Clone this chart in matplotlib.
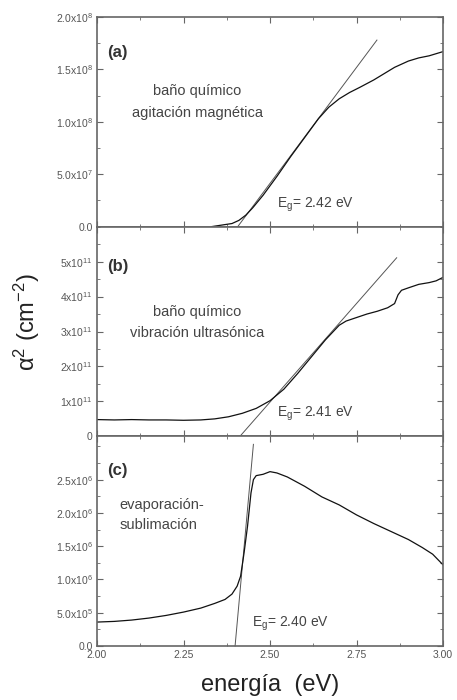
import matplotlib
matplotlib.use('Agg')
import matplotlib.pyplot as plt
import numpy as np
from matplotlib.ticker import MultipleLocator, FixedLocator, FixedFormatter

plt.rcParams['font.family'] = ['Liberation Sans', 'DejaVu Sans']
plt.rcParams['mathtext.default'] = 'regular'

# (a) bano quimico, agitacion magnetica  (alpha^2 in 1e8 cm^-2)
e_a = [2.33, 2.36, 2.39, 2.41, 2.43, 2.45, 2.48, 2.52, 2.56, 2.60, 2.64, 2.67,
       2.70, 2.73, 2.76, 2.80, 2.83, 2.86, 2.88, 2.90, 2.93, 2.96, 2.98, 3.00]
v_a = [0.00, 0.015, 0.03, 0.06, 0.11, 0.18, 0.30, 0.48, 0.67, 0.85, 1.03, 1.14,
       1.22, 1.28, 1.33, 1.40, 1.46, 1.52, 1.55, 1.58, 1.61, 1.63, 1.65, 1.67]
fit_a_e = [2.393, 2.809]
fit_a_v = [-0.06, 1.78]

# (b) bano quimico, vibracion ultrasonica  (1e11 cm^-2)
e_b = [2.00, 2.05, 2.10, 2.15, 2.20, 2.25, 2.30, 2.34, 2.38, 2.42, 2.46, 2.50,
       2.54, 2.58, 2.62, 2.66, 2.70, 2.72, 2.75, 2.78, 2.81, 2.84, 2.86, 2.87,
       2.88, 2.90, 2.93, 2.96, 2.98, 3.00]
v_b = [0.48, 0.47, 0.48, 0.47, 0.47, 0.46, 0.47, 0.50, 0.56, 0.66, 0.80, 1.02,
       1.35, 1.80, 2.28, 2.76, 3.18, 3.30, 3.40, 3.50, 3.58, 3.68, 3.80, 4.05,
       4.18, 4.25, 4.35, 4.40, 4.45, 4.55]
fit_b_e = [2.413, 2.866]
fit_b_v = [0.0, 5.11]

# (c) evaporacion-sublimacion  (1e6 cm^-2)
e_c = [2.00, 2.05, 2.10, 2.15, 2.20, 2.25, 2.30, 2.34, 2.37, 2.39, 2.405, 2.415,
       2.425, 2.435, 2.445, 2.452, 2.46, 2.48, 2.50, 2.52, 2.55, 2.60, 2.65, 2.70,
       2.75, 2.80, 2.85, 2.90, 2.94, 2.97, 3.00]
v_c = [0.36, 0.37, 0.39, 0.42, 0.46, 0.51, 0.57, 0.64, 0.70, 0.78, 0.90, 1.05,
       1.40, 1.80, 2.30, 2.50, 2.56, 2.58, 2.62, 2.60, 2.54, 2.40, 2.24, 2.12,
       1.97, 1.84, 1.72, 1.60, 1.48, 1.38, 1.22]
fit_c_e = [2.399, 2.452]
fit_c_v = [0.0, 3.03]

x_ticks = [2.00, 2.25, 2.50, 2.75, 3.00]
x_labels = ['2.00', '2.25', '2.50', '2.75', '3.00']

a_ticks = [0, 0.5, 1.0, 1.5, 2.0]
a_labels = ['0.0', '5.0x10$^{7}$', '1.0x10$^{8}$', '1.5x10$^{8}$', '2.0x10$^{8}$']
b_ticks = [0, 1, 2, 3, 4, 5]
b_labels = ['0', '1x10$^{11}$', '2x10$^{11}$', '3x10$^{11}$', '4x10$^{11}$', '5x10$^{11}$']
c_ticks = [0, 0.5, 1.0, 1.5, 2.0, 2.5]
c_labels = ['0.0', '5.0x10$^{5}$', '1.0x10$^{6}$', '1.5x10$^{6}$', '2.0x10$^{6}$', '2.5x10$^{6}$']

fig, axs = plt.subplots(3, 1, figsize=(4.57, 7.0), dpi=100, sharex=True)
plt.subplots_adjust(left=0.2123, right=0.9694, top=0.9757, bottom=0.0771, hspace=0)

grey = '#666666'
panels = [
    (axs[0], e_a, v_a, fit_a_e, fit_a_v, (0, 2.0), a_ticks, a_labels, 0.25),
    (axs[1], e_b, v_b, fit_b_e, fit_b_v, (0, 6.0), b_ticks, b_labels, 0.5),
    (axs[2], e_c, v_c, fit_c_e, fit_c_v, (0, 3.15), c_ticks, c_labels, 0.25),
]
for ax, ex, vy, fe, fv, yl, yt, ylab, ymin in panels:
    ax.plot(fe, fv, color='#555555', lw=0.7, clip_on=False)
    ax.plot(ex, vy, color='#111111', lw=0.9)
    ax.set_xlim(2.0, 3.0)
    ax.set_ylim(*yl)
    ax.yaxis.set_major_locator(FixedLocator(yt))
    ax.yaxis.set_major_formatter(FixedFormatter(ylab))
    ax.yaxis.set_minor_locator(MultipleLocator(ymin))
    ax.xaxis.set_major_locator(FixedLocator(x_ticks))
    ax.xaxis.set_minor_locator(MultipleLocator(0.125))
    ax.tick_params(which='both', direction='in', top=True, right=True,
                   color=grey, labelsize=7.5, labelcolor='#555555', pad=3)
    ax.tick_params(which='major', length=4, width=0.8)
    ax.tick_params(which='minor', length=2, width=0.6)
    for s in ax.spines.values():
        s.set_color(grey)
        s.set_linewidth(1.2)

axs[2].set_xticklabels(x_labels)

tc = '#444444'
lab = dict(fontsize=12, fontweight='bold', color='#333333', va='center')
txt = dict(fontsize=10.5, color=tc, va='center')
eg = dict(fontsize=10, color=tc, va='center')

axs[0].text(0.03, 0.83, '(a)', transform=axs[0].transAxes, **lab)
axs[0].text(0.29, 0.646, 'baño químico', transform=axs[0].transAxes, ha='center', **txt)
axs[0].text(0.29, 0.54, 'agitación magnética', transform=axs[0].transAxes, ha='center', **txt)
axs[0].text(0.52, 0.104, 'E$_g$= 2.42 eV', transform=axs[0].transAxes, **eg)

axs[1].text(0.03, 0.81, '(b)', transform=axs[1].transAxes, **lab)
axs[1].text(0.29, 0.595, 'baño químico', transform=axs[1].transAxes, ha='center', **txt)
axs[1].text(0.29, 0.495, 'vibración ultrasónica', transform=axs[1].transAxes, ha='center', **txt)
axs[1].text(0.52, 0.105, 'E$_g$= 2.41 eV', transform=axs[1].transAxes, **eg)

axs[2].text(0.03, 0.835, '(c)', transform=axs[2].transAxes, **lab)
axs[2].text(0.066, 0.675, 'evaporación-', transform=axs[2].transAxes, **txt)
axs[2].text(0.066, 0.575, 'sublimación', transform=axs[2].transAxes, **txt)
axs[2].text(0.448, 0.104, 'E$_g$= 2.40 eV', transform=axs[2].transAxes, **eg)

fig.text(0.059, 0.54, 'α$^{2}$ (cm$^{-2}$)', rotation=90, fontsize=17,
         ha='center', va='center', color='#222222')
fig.text(0.59, 0.022, 'energía  (eV)', fontsize=17, ha='center', va='center',
         color='#222222')

plt.savefig('out.png', dpi=100)
